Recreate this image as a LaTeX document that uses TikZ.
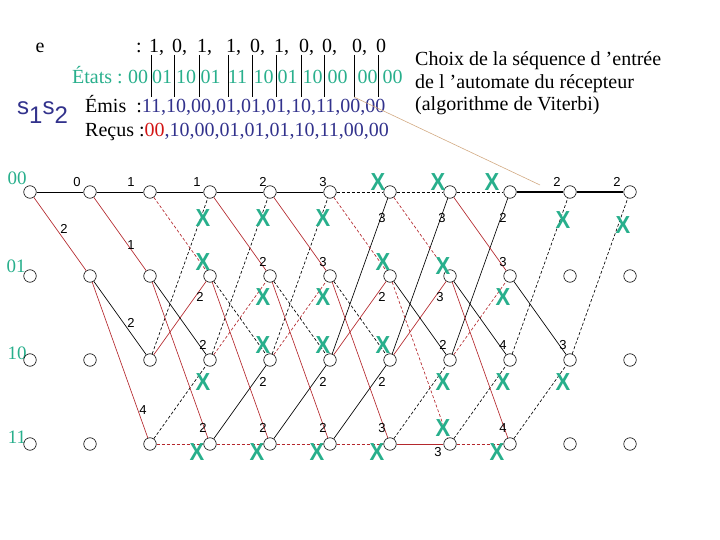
\documentclass[tikz,border=0pt]{standalone}
\usepackage{fontspec}
\setmainfont{Liberation Serif}
\setsansfont{Liberation Sans}
\definecolor{vert}{RGB}{40,175,140}
\definecolor{bleu}{RGB}{50,50,140}
\definecolor{rouge}{RGB}{180,40,45}
\definecolor{rougevif}{RGB}{210,20,20}
\definecolor{beige}{RGB}{210,170,130}
\tikzset{
  etat/.style={draw, circle, minimum size=12.5pt, inner sep=0pt, line width=0.6pt},
  noir/.style={draw=black, line width=0.65pt},
  noirp/.style={noir, dash pattern=on 3pt off 2pt},
  gras/.style={draw=black, line width=2.8pt},
  rge/.style={draw=rouge, line width=0.65pt},
  rgep/.style={rge, dash pattern=on 3pt off 2pt},
  poids/.style={font=\fontsize{13}{15}\selectfont\sffamily, inner sep=0pt},
  croix/.style={text=vert, font=\fontsize{22}{22}\selectfont\sffamily\bfseries, inner sep=0pt, yscale=1.12},
  txt/.style={font=\fontsize{20}{22.5}\selectfont, inner sep=0pt},
  lbl/.style={font=\fontsize{19}{19}\selectfont, text=vert, inner sep=0pt}
}
\begin{document}
\begin{tikzpicture}[x=1pt, y=-1pt]
\useasboundingbox (0,0) rectangle (720,540);

\node[txt, anchor=base] (e) at (40,53) {e};
\node[txt, anchor=base] (dp) at (139,53) {:};
\foreach \x/\d [count=\i] in {151/1,174/0,199/1,228/1,252/0,276/1,301/0,324/0,354/0,378/0}{
  \node[txt, anchor=base] (d\i) at (\x+3,53) {\d\ifnum\i<10\rlap{,}\fi};
  \draw[line width=0.6pt] (\x,55) -- (\x,97);
}
\node[txt, anchor=base west, text=vert] (etats) at (72,84) {États :};
\foreach \x/\s [count=\i] in {138/00,162/01,186/10,210.5/01,237.5/11,263.5/10,287.5/01,312.5/10,337.5/00,367.5/00,392.5/00}
  \node[txt, anchor=base, text=vert] (s\i) at (\x,84) {\s};

\node[anchor=base west, inner sep=0pt, text=bleu, font=\fontsize{24}{24}\selectfont\sffamily] (s12) at (17,115) {s\raisebox{-9pt}{1}s\raisebox{-9pt}{2}};
\node[txt, anchor=base west] (emis) at (85,113) {Émis~~:\textcolor{bleu}{11,10,00,01,01,01,10,11,00,00}};
\node[txt, anchor=base west] (recus) at (85,137) {Reçus :\textcolor{rougevif}{00}\textcolor{bleu}{,10,00,01,01,01,10,11,00,00}};
\node[txt, anchor=north west, align=left] (choix) at (415,51.5) {Choix de la séquence d ’entrée\\de l ’automate du récepteur\\(algorithme de Viterbi)};

\coordinate (pied) at (354,97);
\coordinate (bout) at (540,185);
\draw[beige, line width=0.6pt] (pied) -- (bout);

\node[lbl] (l0) at (17,178) {00};
\node[lbl] (l1) at (16,266) {01};
\node[lbl] (l2) at (17,353) {10};
\node[lbl] (l3) at (17,437) {11};

\foreach \c in {0,...,10}
  \foreach \r in {0,...,3}
    \node[etat] (n\c-\r) at ({30+60*\c},{192+84*\r}) {};

\foreach \a/\b/\s in {0-0/1-0/noir, 0-0/1-1/rge,
  1-0/2-0/noir, 1-0/2-1/rge, 1-1/2-2/noir, 1-1/2-3/rge,
  2-0/3-0/noir, 2-2/3-0/noirp, 2-0/3-1/rgep, 2-2/3-1/rge, 2-1/3-2/noir, 2-3/3-2/noirp, 2-1/3-3/rge, 2-3/3-3/rgep,
  3-0/4-0/noir, 3-2/4-0/noirp, 3-0/4-1/rge, 3-2/4-1/rgep, 3-1/4-2/noirp, 3-3/4-2/noir, 3-1/4-3/rge, 3-3/4-3/rgep,
  4-0/5-0/noir, 4-2/5-0/noirp, 4-0/5-1/rge, 4-2/5-1/rgep, 4-1/5-2/noirp, 4-3/5-2/noir, 4-1/5-3/rge, 4-3/5-3/rgep,
  5-0/6-0/noirp, 5-2/6-0/noir, 5-0/6-1/rgep, 5-2/6-1/rge, 5-1/6-2/noirp, 5-3/6-2/noir, 5-1/6-3/rge, 5-3/6-3/rgep,
  6-0/7-0/noirp, 6-2/7-0/noir, 6-0/7-1/rgep, 6-2/7-1/rge, 6-1/7-2/noir, 6-3/7-2/noirp, 6-1/7-3/rgep, 6-3/7-3/rge,
  7-0/8-0/noirp, 7-2/8-0/noir, 7-0/8-1/rge, 7-2/8-1/rgep, 7-1/8-2/noir, 7-3/8-2/noirp, 7-1/8-3/rge, 7-3/8-3/rgep,
  8-0/9-0/gras, 8-2/9-0/noirp, 8-1/9-2/noir, 8-3/9-2/noirp,
  9-0/10-0/gras, 9-2/10-0/noirp}
  \draw[\s] (n\a) -- (n\b);

\foreach \x/\y/\v [count=\i] in {77/182/0, 64/229/2, 131/182/1, 131/245/1, 131/323/2, 143/410/4,
  197/182/1, 200/297/2, 203/345/2, 203/428/2,
  263/182/2, 263/262/2, 263/382/2, 263/428/2,
  323/182/3, 323/262/3, 323/382/2, 323/428/2,
  382/218/3, 382/297/2, 382/382/2, 382/428/3,
  442/218/3, 440/297/3, 443/345/2, 438/452/3,
  503/218/2, 503/262/3, 503/345/4, 503/428/4,
  557/182/2, 563/345/3, 617/182/2}
  \node[poids] (m\i) at (\x,\y) {\v};

\foreach \x/\y [count=\i] in {203/218, 203/262, 203/382, 197/452,
  263/218, 263/297, 263/345, 257/452,
  323/218, 323/297, 323/345, 317/452,
  378/182, 383/262, 383/345, 377/452,
  438/182, 443/266, 443/382, 443/428,
  492/182, 503/297, 503/382, 497/452,
  563/220, 563/382, 623/225}
  \node[croix] (x\i) at (\x,\y) {X};
\end{tikzpicture}
\end{document}
